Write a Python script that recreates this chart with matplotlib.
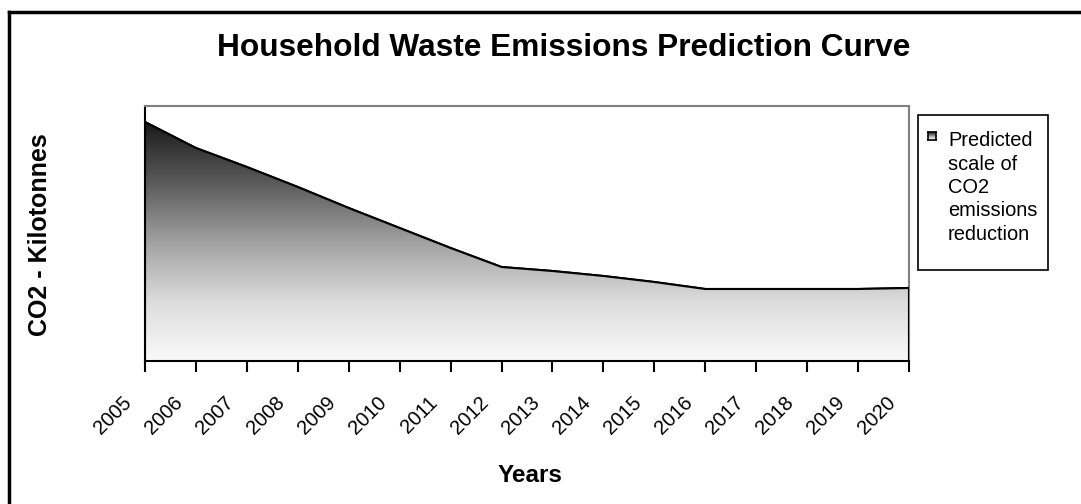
import matplotlib
matplotlib.use("Agg")
import matplotlib.pyplot as plt
import numpy as np
from matplotlib.colors import LinearSegmentedColormap
from matplotlib.lines import Line2D
from matplotlib.patches import Rectangle
from matplotlib.transforms import ScaledTranslation

plt.rcParams['font.family'] = ['Liberation Sans', 'DejaVu Sans']

# Predicted CO2 emissions (kilotonnes) from household waste
years = [2005, 2006, 2007, 2008, 2009, 2010, 2011, 2012,
         2013, 2014, 2015, 2016, 2017, 2018, 2019, 2020]
emissions = [239, 213, 194, 174, 153, 133, 113, 94,
             90, 85, 79, 72, 72, 72, 72, 73]
year_labels = [str(y) for y in years]
series_name = "Predicted\nscale of\nCO2\nemissions\nreduction"

fig = plt.figure(figsize=(10.81, 5.04), dpi=100)
ax = fig.add_axes([145 / 1081, 143 / 504, 764 / 1081, 255 / 504])

# dark-to-light fill under the curve
grey_fade = LinearSegmentedColormap.from_list(
    "fade", [(0.0, "#fafafa"), (0.25, "#dcdcdc"), (0.5, "#a0a0a0"),
             (0.75, "#5a5a5a"), (1.0, "#1a1a1a")])
area = ax.fill_between(years, emissions, 0, facecolor="none",
                       edgecolor="black", linewidth=1.5)
grad = np.linspace(0, 1, 256).reshape(-1, 1)
img = ax.imshow(grad, cmap=grey_fade, origin="lower", aspect="auto",
                extent=[years[0], years[-1], 0, max(emissions)], zorder=1)
img.set_clip_path(area.get_paths()[0], transform=ax.transData)
ax.plot(years, emissions, color="black", linewidth=1.5, zorder=3)
ax.plot([years[0], years[0]], [0, emissions[0]], color="black", lw=1.5, zorder=3)
ax.plot([years[-1], years[-1]], [0, emissions[-1]], color="black", lw=1.5, zorder=3)

ax.set_xlim(years[0], years[-1])
ax.set_ylim(0, 255)
ax.set_yticks([])
ax.set_xticks(years)
ax.set_xticklabels(year_labels, rotation=45, ha="right", va="center",
                   rotation_mode="anchor", fontsize=14.5)
ax.tick_params(axis="x", direction="out", length=8, width=1.5, pad=20)
shift = ScaledTranslation(-16 / 100, 0, fig.dpi_scale_trans)
for lbl in ax.get_xticklabels():
    lbl.set_transform(lbl.get_transform() + shift)

for side in ("top", "right"):
    ax.spines[side].set_color("#808080")
    ax.spines[side].set_linewidth(1.5)
for side in ("left", "bottom"):
    ax.spines[side].set_color("black")
    ax.spines[side].set_linewidth(1.5)

fig.text(564 / 1081, 1 - 48 / 504, "Household Waste Emissions Prediction Curve",
         ha="center", va="center", fontsize=22.8, fontweight="bold")
fig.text(530 / 1081, 1 - 475 / 504, "Years", ha="center", va="center",
         fontsize=17.5, fontweight="bold")
fig.text(40 / 1081, 1 - 235 / 504, "CO2 - Kilotonnes", ha="center", va="center",
         rotation=90, fontsize=18, fontweight="bold")

# legend box
fig.add_artist(Rectangle((918 / 1081, 1 - 270 / 504), 130 / 1081, 155 / 504,
                         transform=fig.transFigure, facecolor="white",
                         edgecolor="black", linewidth=1.2, zorder=0))
key = fig.add_axes([928 / 1081, 1 - 140 / 504, 8 / 1081, 8 / 504])
key.set_zorder(2)
key.imshow(grad[40:], cmap=grey_fade, origin="lower", aspect="auto")
key.set_xticks([])
key.set_yticks([])
for s in key.spines.values():
    s.set_linewidth(1.2)
fig.text(948 / 1081, 1 - 131 / 504, series_name, ha="left", va="top",
         fontsize=14.4, linespacing=1.3)

# outer chart frame
fig.add_artist(Line2D([9 / 1081, 1.01], [1 - 12 / 504, 1 - 12 / 504],
                      transform=fig.transFigure, color="black", linewidth=2.5))
fig.add_artist(Line2D([9 / 1081, 9 / 1081], [1 - 12 / 504, -0.01],
                      transform=fig.transFigure, color="black", linewidth=2.5))

fig.savefig("out.png", dpi=100)
